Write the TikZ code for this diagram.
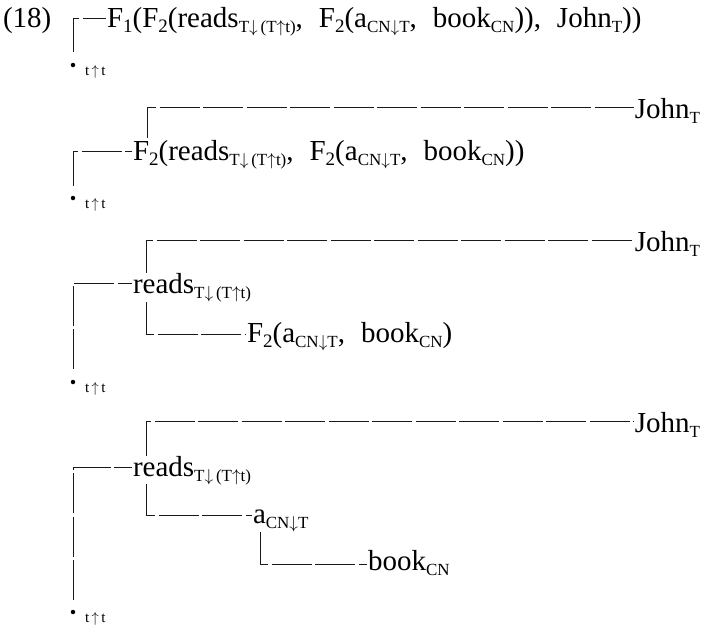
\documentclass[tikz,border=0pt]{standalone}
\usepackage{fontspec}
\setmainfont{Liberation Serif}
\usetikzlibrary{calc}
% lowered indices for the type labels
\newcommand\lo[1]{\raisebox{-5pt}{\fontsize{17}{19}\selectfont #1}}
\newcommand\ix[1]{\raisebox{-5pt}{\fontsize{19}{21}\selectfont #1}}
\newcommand\dn{$\downarrow$}
\newcommand\upa{$\uparrow$}
\newcommand\csep{,\hspace{0.55em}}
\newcommand\ttype{t\,\upa\,t}
\tikzset{
  term/.style={inner sep=0pt, outer sep=0pt, anchor=base west, font=\fontsize{29}{33}\selectfont},
  john/.style={term, anchor=base east},
  typ/.style={inner sep=0pt, outer sep=0pt, anchor=base west, font=\fontsize{15}{17}\selectfont},
  root/.style={circle, fill=black, inner sep=0pt, minimum size=4.5pt},
  conn/.style={line width=0.95pt, dash pattern=on 40pt off 3.5pt, black!90},
}
\begin{document}
\begin{tikzpicture}[x=1pt, y=-1pt]
\useasboundingbox (0,0) rectangle (701,627);

% ---- (18), first line
\node[term] (num) at (3,27) {(18)};
\node[term] (n1) at (107,27) {F\ix{1}(F\ix{2}(reads\lo{T\dn\,(T\upa t)}\csep F\ix{2}(a\lo{CN\dn T}\csep book\lo{CN}))\csep John\lo{T}))};
\node[root] (d1) at (73,65) {};
\node[typ] (t1) at (85,75) {\ttype};
\draw[conn] ($(d1)+(0,-13)$) |- ($(n1.base west)+(-1,-9)$);

% ---- second tree
\node[john] (j2) at (700,118) {John\lo{T}};
\node[term] (f2) at (133,160) {F\ix{2}(reads\lo{T\dn\,(T\upa t)}\csep F\ix{2}(a\lo{CN\dn T}\csep book\lo{CN}))};
\node[root] (d2) at (73,198) {};
\node[typ] (t2) at (85,208) {\ttype};
\draw[conn] ($(d2)+(0,-12)$) |- ($(f2.base west)+(-1,-9)$);
\draw[conn] ($(f2.base west)+(14,-22)$) |- ($(j2.base west)+(-1,-11)$);

% ---- third tree
\node[john] (j3) at (700,251) {John\lo{T}};
\node[term] (r3) at (133,293) {reads\lo{T\dn\,(T\upa t)}};
\node[term] (f3) at (247,342) {F\ix{2}(a\lo{CN\dn T}\csep book\lo{CN})};
\node[root] (d3) at (73,382) {};
\node[typ] (t3) at (85,392) {\ttype};
\draw[conn] ($(d3)+(0,-13)$) |- ($(r3.base west)+(-1,-10)$);
\draw[conn] ($(r3.base west)+(13,-20)$) |- ($(j3.base west)+(-1,-11)$);
\draw[conn] ($(r3.base west)+(13,9)$) |- ($(f3.base west)+(-1,-8)$);

% ---- fourth tree
\node[john] (j4) at (700,432) {John\lo{T}};
\node[term] (r4) at (133,476) {reads\lo{T\dn\,(T\upa t)}};
\node[term] (a4) at (253,523) {a\lo{CN\dn T}};
\node[term] (b4) at (368,570) {book\lo{CN}};
\node[root] (d4) at (73,612) {};
\node[typ] (t4) at (85,622) {\ttype};
\draw[conn] ($(d4)+(0,-12)$) |- ($(r4.base west)+(-1,-9)$);
\draw[conn] ($(r4.base west)+(13,-20)$) |- ($(j4.base west)+(-1,-11)$);
\draw[conn] ($(r4.base west)+(13,8)$) |- ($(a4.base west)+(-1,-8)$);
\draw[conn] ($(a4.base west)+(7,9)$) |- ($(b4.base west)+(-1,-6)$);
\end{tikzpicture}
\end{document}
